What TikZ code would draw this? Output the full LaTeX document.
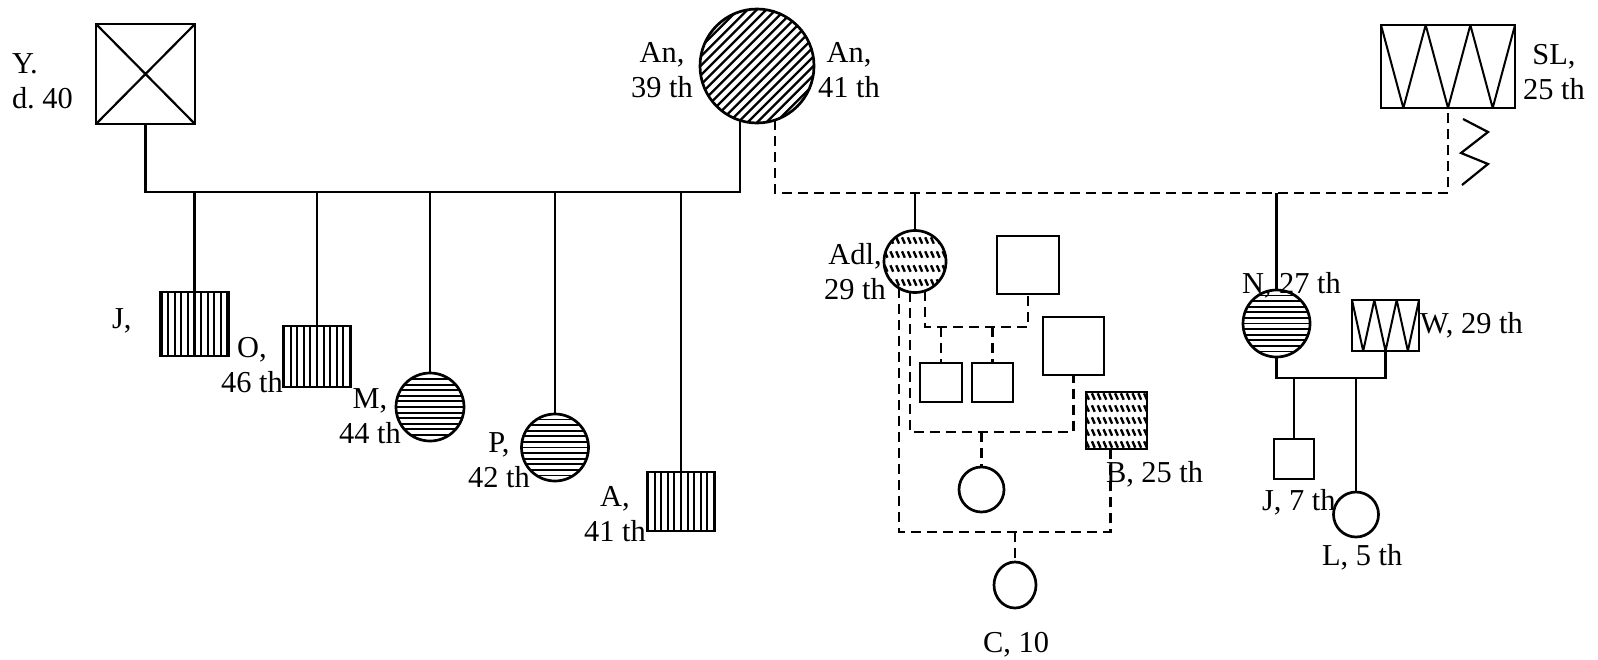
\documentclass[tikz,border=0pt]{standalone}
\usepackage{fontspec}
\setmainfont{Liberation Serif}
\usetikzlibrary{calc,shapes.geometric}
\frenchspacing
\begin{document}
\begin{tikzpicture}[x=0.5pt,y=-0.5pt,
  every node/.style={inner sep=0pt, outer sep=0pt},
  lbl/.style={font=\fontsize{15.2}{17.5}\selectfont, align=center},
  slbl/.style={font=\fontsize{15.2}{17.5}\selectfont, anchor=base west},
  shp/.style={draw, line width=1.35pt},
  sq/.style={shp, rectangle},
  ci/.style={shp, circle},
  ov/.style={shp, ellipse},
  con/.style={line width=1.1pt},
  dsh/.style={con, dash pattern=on 5pt off 3pt},
  vh/.style={path picture={\foreach \k in {-20,...,20}{\draw[line width=1.05pt] ([xshift=\k*3.3pt]path picture bounding box.north) -- ([xshift=\k*3.3pt]path picture bounding box.south);}}},
  hh/.style={path picture={\foreach \k in {-20,...,20}{\draw[line width=0.95pt] ([yshift=\k*2.8pt]path picture bounding box.west) -- ([yshift=\k*2.8pt]path picture bounding box.east);}}},
  dh/.style={path picture={\foreach \k in {-25,...,25}{\draw[line width=1.15pt] ([shift={(\k*4.7pt-40pt,-40pt)}]path picture bounding box.center) -- ++(80pt,80pt);}}},
  adh/.style={path picture={\foreach \r in {#1}{\foreach \c in {-12,...,12}{\draw[line width=1.2pt] ([shift={(\c*2.9pt-0.7pt,\r pt+1.6pt)}]path picture bounding box.center) -- ++(1.4pt,-3.2pt);}}}},
  zz/.style={path picture={
    \coordinate (zNW) at (path picture bounding box.north west);
    \coordinate (zNE) at (path picture bounding box.north east);
    \coordinate (zSW) at (path picture bounding box.south west);
    \coordinate (zSE) at (path picture bounding box.south east);
    \draw[line width=1pt] (zNW) -- ($(zSW)!0.1667!(zSE)$) -- ($(zNW)!0.3333!(zNE)$) -- ($(zSW)!0.5!(zSE)$) -- ($(zNW)!0.6667!(zNE)$) -- ($(zSW)!0.8333!(zSE)$) -- (zNE);}},
]
\fill[white] (0,0) rectangle (1598,659);
\useasboundingbox (0,0) rectangle (1598,659);

% generation I
\node[sq, minimum width=49.5pt, minimum height=50pt] (Y) at (145.5,74) {};
\draw[line width=1.1pt] (Y.north west) -- (Y.south east) (Y.north east) -- (Y.south west);
\node[ci, minimum size=57pt, dh] (An) at (757,66) {};
\node[sq, minimum width=67pt, minimum height=41.5pt, zz] (SL) at (1448,66.5) {};

% children of Y and An
\node[sq, vh, minimum width=34.5pt, minimum height=32pt] (J) at (194.5,324) {};
\node[sq, vh, minimum width=34pt, minimum height=30.5pt] (O) at (317,356.5) {};
\node[ci, hh, minimum size=34pt] (M) at (430,407) {};
\node[ci, hh, minimum size=33.5pt] (P) at (555,447.5) {};
\node[sq, vh, minimum width=34pt, minimum height=29.5pt] (A) at (681,501.5) {};

% Adl family
\node[ci, minimum size=31pt, adh={-10.5,-3.5,3.5,10.5}] (Adl) at (915,261.5) {};
\node[sq, minimum width=31pt, minimum height=29pt] (P1) at (1028,265) {};
\node[sq, minimum width=21pt, minimum height=19.5pt] (ch1) at (941,382.5) {};
\node[sq, minimum width=20.5pt, minimum height=19.5pt] (ch2) at (992.5,382.5) {};
\node[sq, minimum width=30.5pt, minimum height=29pt] (P2) at (1073.5,346) {};
\node[ci, minimum size=22.5pt] (ch3) at (981.5,489.5) {};
\node[sq, minimum width=30.5pt, minimum height=28.5pt, adh={-12,-6,0,6,12}] (B) at (1116.5,420.5) {};
\node[ov, minimum width=21pt, minimum height=23pt] (C) at (1015,585) {};

% N family
\node[ci, hh, minimum size=33.5pt] (N) at (1276.5,323.5) {};
\node[sq, minimum width=33.5pt, minimum height=25.5pt, zz] (W) at (1385.5,325.5) {};
\node[sq, minimum width=20pt, minimum height=20pt] (J2) at (1294,459) {};
\node[ci, minimum size=22.5pt] (L) at (1356,514.5) {};

% connectors
\coordinate (bar) at (0,192);
\coordinate (bar2) at (0,193);
\coordinate (m1) at (0,327);
\coordinate (m2) at (0,432);
\coordinate (m3) at (0,532);
\coordinate (m4) at (0,378);

\draw[con] (Y.south) |- (An.-107 |- bar) -- (An.-107);
\foreach \n in {J,O,M,P,A}{\draw[con] (\n.north |- bar) -- (\n.north);}
\draw[dsh] (An.-72) |- (SL.south |- bar2) -- (SL.south);
\draw[con] ([shift={(15,11)}]SL.south) -- ++(25,13) -- ++(-27,21) -- ++(27,11) -- ++(-26,21);
\draw[con] (Adl.north |- bar2) -- (Adl.north);
\draw[con] (N.north |- bar2) -- (N.north);

\draw[dsh] (Adl.-71) |- (P1.south |- m1) -- (P1.south);
\draw[dsh] (ch1.north |- m1) -- (ch1.north);
\draw[dsh] (ch2.north |- m1) -- (ch2.north);
\draw[dsh] (Adl.-99) |- (P2.south |- m2) -- (P2.south);
\draw[dsh] (ch3.north |- m2) -- (ch3.north);
\coordinate (Bd) at ([xshift=-3pt]B.south);
\draw[dsh] (Adl.-121) |- (Bd |- m3) -- (Bd);
\draw[dsh] (C.north |- m3) -- (C.north);

\draw[con] (N.south) |- (W.south |- m4) -- (W.south);
\draw[con] (J2.north |- m4) -- (J2.north);
\draw[con] (L.north |- m4) -- (L.north);

% labels
\node[lbl, align=left, anchor=west] (tY) at (12,81) {Y.\\d. 40};
\node[lbl] (tAn1) at (662,70) {An,\\39 th};
\node[lbl] (tAn2) at (849,70) {An,\\41 th};
\node[lbl] (tSL) at (1554,72) {SL,\\25 th};
\node[slbl] (tJ) at (112,328) {J,};
\node[lbl] (tO) at (252,365) {O,\\46 th};
\node[lbl] (tM) at (370,416) {M,\\44 th};
\node[lbl] (tP) at (499,460) {P,\\42 th};
\node[lbl] (tA) at (615,514) {A,\\41 th};
\node[lbl] (tAdl) at (855,272) {Adl,\\29 th};
\node[slbl] (tB) at (1106,482) {B, 25 th};
\node[slbl] (tN) at (1242,293) {N, 27 th};
\node[slbl] (tW) at (1420,333) {W, 29 th};
\node[slbl] (tJ2) at (1262,510) {J, 7 th};
\node[slbl] (tL) at (1322,565) {L, 5 th};
\node[lbl, anchor=base] (tC) at (1016,652) {C, 10};
\end{tikzpicture}
\end{document}
